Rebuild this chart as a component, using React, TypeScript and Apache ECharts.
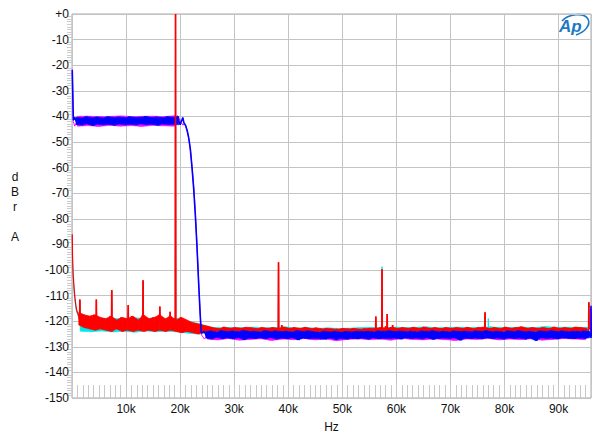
import React, { useEffect, useRef } from "react";
import * as echarts from "echarts";

// ---------- data (kHz, dB) ----------
const xTickLabels = ["10k", "20k", "30k", "40k", "50k", "60k", "70k", "80k", "90k"];

// Red trace
const redStart: number[][] = [
  [0.05, -86], [0.1, -95], [0.2, -101], [0.35, -106], [0.5, -110], [0.7, -113.5], [0.85, -115.5],
];
const redNoiseStart = 1.0; // kHz, 0.5 kHz steps
const redNoise: number[] = [
  -116.5, -121.5, -117.5, -122.5, -118, -123, -117.5, -123.5, -118.5, -123,
  -119, -123.5, -118, -124, -119.5, -123, -118.5, -124, -119, -123.5,
  -118, -124, -119.5, -123.5, -117.5, -124, -119, -123.5, -118.5, -124,
  -117.5, -123.5, -119, -124, -118, -123.5, -119.5, -124, -118.5, -124.5,
  -119.5, -124, -120.5, -124.5, -121, -125, -121.5, -124.5, -122, -124,
  -122.6, -124, -122.9, -123.8, -122.3, -124, -122.8, -124, -122.5, -123.8,
  -122.8, -124, -122.4, -123.8, -122.6, -124, -122.9, -123.8, -122.5, -124,
  -122.8, -124, -122.5, -123.8, -122.9, -124, -122.3, -124, -122.8, -123.8,
  -122.5, -124, -122.8, -124, -122.4, -123.8, -122.9, -124, -122.6, -124,
  -123, -124, -122.8, -124.2, -123, -124, -123.1, -124.2, -122.8, -124,
  -123, -124.2, -122.8, -124, -123.1, -124.2, -122.9, -124, -122.8, -124,
  -122.8, -124, -122.5, -123.8, -122.8, -124, -122.4, -124, -122.8, -124,
  -122.5, -124, -122.8, -123.8, -122.4, -124, -122.8, -124, -122.3, -123.8,
  -122.8, -124, -122.5, -124, -122.9, -123.8, -122.5, -124, -122.8, -124,
  -122.5, -123.8, -122.8, -124, -122.4, -124, -122.9, -123.8, -122.5, -124,
  -122.4, -124, -122.8, -123.8, -122.5, -124, -122.9, -124, -122.3, -123.8,
  -122.8, -124, -122.5, -123.8, -122.2, -124, -122.8, -124, -122.5, -123.8,
  -122.8, -124, -122.5, -124, -122.9, -123.8, -122.3, -124, -122.8, -124,
  -122.5, -123.8, -122.8, -124, -122.3, -123.8, -122.5, -124, -122.8, -123.8,
  -123,
];
// [freq, peak, base]
const redSpikes: number[][] = [
  [1.45, -111.5, -119], [4.5, -111.5, -120], [7.35, -107.8, -120], [10.4, -113.7, -120],
  [13.15, -104, -120], [16.25, -114.3, -120], [18.15, -116.3, -120], [19.15, 0, -121],
  [38.2, -97, -123], [38.8, -121.5, -123], [56.2, -118.2, -123], [57.35, -99.7, -123],
  [58.0, -122, -123], [58.3, -117.2, -123], [59.3, -121.5, -123], [76.4, -116.5, -123],
  [95.6, -112.6, -123],
];

// Cyan trace
const cyanStart: number[][] = [
  [0.05, -87], [0.1, -96], [0.2, -102], [0.35, -107], [0.5, -111], [0.7, -114.5], [0.85, -116.5],
];
const cyanNoiseStart = 1.0; // 1 kHz steps
const cyanNoise: number[] = [
  -117, -123.9, -118.5, -124.1, -119, -123.8, -118.8, -124.2, -119.2, -123.9,
  -118.6, -124.3, -119, -123.8, -118.7, -124.1, -119.3, -123.9, -118.9, -124.2,
  -120, -124.7, -121, -125.0, -122.3, -124.6, -122.6, -124.4, -122.4, -124.7,
  -122.5, -124.5, -122.3, -124.6, -122.6, -124.3, -122.4, -124.7, -122.2, -124.5,
  -122.7, -124.6, -122.5, -124.4, -122.8, -124.7, -122.6, -124.5, -122.9, -124.6,
  -122.7, -124.4, -122.5, -124.7, -122.4, -124.5, -122.6, -124.6, -122.3, -124.4,
  -122.5, -124.6, -122.4, -124.5, -122.2, -124.7, -122.6, -124.4, -122.4, -124.6,
  -122.3, -124.5, -122.5, -124.7, -122.4, -124.4, -122.2, -124.6, -122.5, -124.5,
  -122.4, -124.7, -122.3, -124.4, -122.5, -124.6, -122.1, -124.5, -122.4, -124.4,
  -122.3, -124.6, -122.5, -124.5, -122.4, -124.6,
];
const cyanSpikes: number[][] = [
  [1.45, -112, -120], [7.35, -108.5, -120], [13.15, -104.5, -120], [19.15, 0, -121],
  [38.2, -97.5, -123.5], [57.35, -98.7, -123.5], [76.4, -117, -123.5], [77.0, -119, -123.5],
  [95.6, -113, -123.5],
];

// Blue trace
const blueStart: number[][] = [[0.05, -22], [0.25, -41.5]];
const bluePlateauStart = 0.5; // 0.5 kHz steps
const bluePlateau: number[] = [
  -40.3, -43.2, -40.6, -43.4, -40.1, -42.9, -40.5, -43.6, -40.2, -43.1,
  -40.6, -43.3, -40.1, -43.1, -40.4, -43.5, -40.2, -43, -40.5, -43.3,
  -40.1, -43.1, -40.4, -43.4, -40.3, -42.9, -40, -43.3, -40.4, -43.1,
  -40.2, -43.5, -40.5, -43, -40.1, -43.2, -40.3, -43.1, -40, -43.3,
  -40.4,
];
const blueRolloff: number[][] = [
  [20.7, -42.5], [21.0, -43.5], [21.3, -45.5], [21.6, -48.5], [21.9, -53], [22.2, -60],
  [22.5, -68], [22.8, -78], [23.1, -90], [23.4, -104], [23.7, -117], [23.9, -124.5],
];
const blueNoiseStart = 24.5; // 0.5 kHz steps
const blueNoise: number[] = [
  -124, -126.5, -123.8, -127, -124.2, -126.3, -123.7, -126.8, -124, -126.5,
  -123.8, -126.9, -124.1, -126.4, -123.6, -127.2, -124, -126.6, -123.9, -126.8,
  -124.2, -126.5, -123.7, -126.9, -124, -126.4, -123.8, -127, -124.1, -126.6,
  -123.9, -126.8, -124.2, -126.5, -123.7, -127.3, -124, -126.6, -123.8, -126.9,
  -124.1, -126.7, -124.3, -126.9, -123.9, -127, -124.2, -126.6, -124, -127.1,
  -124.3, -126.8, -124, -127, -124.2, -126.7, -123.9, -126.9, -124.1, -126.6,
  -123.9, -127, -124.2, -126.5, -123.8, -126.9, -124, -126.7, -123.7, -126.8,
  -124, -126.6, -123.8, -127, -124.1, -126.5, -123.9, -126.8, -124.2, -126.6,
  -123.8, -126.9, -124, -126.5, -123.7, -127.1, -124.1, -126.7, -123.9, -126.6,
  -124.2, -126.8, -123.8, -126.5, -124, -127.4, -123.9, -126.6, -124.1, -126.8,
  -123.8, -126.6, -124, -126.9, -123.7, -126.5, -124.1, -126.8, -123.9, -126.6,
  -124.2, -127, -123.8, -126.5, -124, -126.8, -123.7, -126.6, -124.1, -127,
  -123.9, -126.6, -124.2, -127.6, -123.8, -126.5, -124, -126.8, -123.7, -126.6,
  -124, -126.9, -123.8, -126.5, -124.1, -126.7, -123.9, -126.8, -124, -126.6,
  -123.8, -126.7, -124, -126.5,
];
const blueSpikes: number[][] = [[96, -114, -126]];

// Magenta trace
const magentaStart: number[][] = [[0.05, -21.5], [0.25, -42]];
const magentaPlateauStart = 0.5; // 1 kHz steps
const magentaPlateau: number[] = [
  -43.8, -40, -43.6, -39.9, -43.9, -40.1, -43.5, -40, -43.8, -39.8,
  -43.6, -40.1, -43.9, -40, -43.5, -39.9, -43.7, -40.1, -43.8, -39.7,
  -43.4,
];
const magentaRolloff: number[][] = [
  [20.8, -42.8], [21.1, -44], [21.4, -46.5], [21.7, -50], [22.0, -55], [22.3, -62],
  [22.6, -70], [22.9, -81], [23.2, -94], [23.5, -108], [23.8, -120], [24.0, -125.5],
];
const magentaNoiseStart = 24.5; // 1 kHz steps
const magentaNoise: number[] = [
  -127.0, -124.6, -127.3, -124.9, -126.8, -124.7, -127.4, -124.5, -127.1, -124.8,
  -126.9, -124.6, -127.5, -124.9, -127.0, -124.7, -127.2, -124.5, -126.8, -124.8,
  -127.3, -124.6, -127.0, -124.9, -127.6, -124.7, -127.1, -124.5, -126.9, -124.8,
  -127.2, -124.6, -127.0, -124.9, -127.4, -124.7, -126.8, -124.5, -127.1, -124.8,
  -127.3, -124.6, -126.9, -124.9, -127.2, -124.7, -127.5, -124.5, -127.0, -124.8,
  -127.1, -124.6, -126.8, -124.9, -127.3, -124.7, -127.0, -124.5, -127.2, -124.8,
  -126.9, -124.6, -127.4, -124.9, -127.1, -124.7, -126.8, -124.5, -127.0, -124.8,
  -127.2, -124.6,
];
const magentaSpikes: number[][] = [[96, -115, -126.5]];

// ---------- helpers ----------
const r3 = (v: number) => Math.round(v * 1000) / 1000;
const seq = (start: number, step: number, vals: number[]) =>
  vals.map((v, i) => [r3(start + i * step), v]);
const spikePts = (spikes: number[][]) =>
  ([] as number[][]).concat(
    ...spikes.map(([f, peak, base]) => [[r3(f - 0.04), base], [f, peak], [r3(f + 0.04), base]])
  );
// spikes only, separated by gaps
const spikeOnly = (spikes: number[][]) =>
  ([] as any[][]).concat(
    ...spikes.map(([f, peak, base]) => [[r3(f - 0.04), base], [f, peak], [r3(f + 0.04), base], [r3(f + 0.05), "-"]])
  );
const merge = (...parts: number[][][]) => {
  const all = ([] as number[][]).concat(...parts);
  return all
    .map((p, i) => ({ p, i }))
    .sort((a, b) => a.p[0] - b.p[0] || a.i - b.i)
    .map((o) => o.p);
};
// band [f, lo, hi] from each consecutive pair of noise readings
const bandOf = (start: number, step: number, vals: number[]) => {
  const pts: number[][] = [];
  for (let i = 0; i + 1 < vals.length; i += 2) {
    const f = r3(start + (i + 0.5) * step);
    pts.push([f, Math.min(vals[i], vals[i + 1]), Math.max(vals[i], vals[i + 1])]);
  }
  return pts;
};

const LOGO_D = "M 5 7 C 11 0 27 -2 31 5 C 34 11 28 18 19 21";
let logoRegistered = false;

const FONT = "'Liberation Sans', Arial, sans-serif";

export default function App() {
  const ref = useRef<HTMLDivElement>(null);
  useEffect(() => {
    document.body.style.margin = "0";
    if (!logoRegistered) {
      echarts.graphic.registerShape("logo", echarts.graphic.extendPath(LOGO_D, {}));
      logoRegistered = true;
    }
    const chart = echarts.init(ref.current!, null, { renderer: "svg" });

    const red = merge(redStart, seq(redNoiseStart, 0.5, redNoise), spikePts(redSpikes));
    const cyan = merge(cyanStart, seq(cyanNoiseStart, 1, cyanNoise), spikePts(cyanSpikes));
    const blue = merge(blueStart, seq(bluePlateauStart, 0.5, bluePlateau), blueRolloff, seq(blueNoiseStart, 0.5, blueNoise), spikePts(blueSpikes));
    const magenta = merge(magentaStart, seq(magentaPlateauStart, 1, magentaPlateau), magentaRolloff, seq(magentaNoiseStart, 1, magentaNoise), spikePts(magentaSpikes));

    const lineSeries = (id: string, data: any[][], color: string, z: number, width = 1) => ({
      id,
      name: id,
      type: "line",
      data,
      showSymbol: false,
      symbol: "none",
      silent: true,
      connectNulls: false,
      lineStyle: { color, width },
      z,
    });

    const bandSeries = (id: string, pts: number[][], color: string, z: number) => ({
      id,
      name: id,
      type: "custom",
      data: pts,
      silent: true,
      z,
      encode: { x: 0, y: [1, 2] },
      renderItem: (params: any, api: any) => {
        const i = params.dataIndex;
        if (i >= pts.length - 1) return null;
        const a = pts[i];
        const b = pts[i + 1];
        const p1 = api.coord([a[0], a[2]]);
        const p2 = api.coord([b[0], b[2]]);
        const p3 = api.coord([b[0], b[1]]);
        const p4 = api.coord([a[0], a[1]]);
        return {
          type: "polygon",
          shape: { points: [p1, p2, p3, p4] },
          style: { fill: color, stroke: color, lineWidth: 0.6 },
        };
      },
    });

    chart.setOption({
      animation: false,
      backgroundColor: "#ffffff",
      grid: {
        left: 72, right: 9, top: 14, bottom: 42,
        show: true, borderColor: "#a8a8a8", borderWidth: 1,
      },
      xAxis: [
        {
          type: "value", min: 0, max: 96, interval: 10,
          name: "Hz", nameLocation: "middle", nameGap: 23,
          nameTextStyle: { fontSize: 12, color: "#111", fontFamily: FONT },
          axisLine: { show: false }, axisTick: { show: false },
          axisLabel: {
            fontSize: 12, color: "#111", fontFamily: FONT, margin: 5,
            formatter: (v: number) => {
              const idx = Math.round(v / 10) - 1;
              return v % 10 === 0 && idx >= 0 && idx < xTickLabels.length ? xTickLabels[idx] : "";
            },
          },
          splitLine: { show: true, lineStyle: { color: "#c4c4c4", width: 1 } },
        },
        {
          type: "value", min: 0, max: 96, interval: 1, position: "bottom",
          axisLine: { show: false },
          axisTick: { show: true, inside: true, length: 13, lineStyle: { color: "#c8c8c8", width: 1 } },
          axisLabel: { show: false },
          splitLine: { show: false },
        },
      ],
      yAxis: [
        {
          type: "value", min: -150, max: 0, interval: 10,
          axisLine: { show: false }, axisTick: { show: false },
          axisLabel: {
            fontSize: 12, color: "#111", fontFamily: FONT, margin: 3,
            formatter: (v: number) => (v === 0 ? "+0" : String(v)),
          },
          splitLine: { show: true, lineStyle: { color: "#c4c4c4", width: 1 } },
          minorTick: { show: true, splitNumber: 10, length: 5, lineStyle: { color: "#cccccc", width: 1 } },
        },
      ],
      series: [
        bandSeries("cyanBand", bandOf(cyanNoiseStart, 1, cyanNoise), "#00e8e8", 3),
        lineSeries("cyanLine", cyan, "#00e8e8", 4),
        bandSeries("magentaPlateauBand", bandOf(magentaPlateauStart, 1, magentaPlateau), "#ff00ff", 5),
        bandSeries("magentaNoiseBand", bandOf(magentaNoiseStart, 1, magentaNoise), "#ff00ff", 5),
        lineSeries("magentaLine", magenta, "#ff00ff", 6),
        bandSeries("redBand", bandOf(redNoiseStart, 0.5, redNoise), "#ff0000", 7),
        lineSeries("redLine", red, "#ff0000", 8, 1.2),
        bandSeries("bluePlateauBand", bandOf(bluePlateauStart, 0.5, bluePlateau), "#0000ff", 9),
        bandSeries("blueNoiseBand", bandOf(blueNoiseStart, 0.5, blueNoise), "#0000ff", 9),
        lineSeries("blueLine", blue, "#0000ff", 10, 1.6),
        lineSeries("redSpikeLine", spikeOnly(redSpikes), "#ff0000", 11, 1.6),
      ],
      graphic: [
        {
          type: "text", x: 15, y: 207,
          style: { text: "d\nB\nr\n\nA", fontSize: 12, lineHeight: 15, align: "center", verticalAlign: "middle", fill: "#111", fontFamily: FONT },
        },
        {
          type: "text", x: 559, y: 18,
          style: { text: "Ap", fontSize: 17, fontStyle: "italic", fontWeight: "bold", fill: "#1f78c1", fontFamily: FONT },
        },
        {
          type: "logo", x: 557, y: 14,
          style: { stroke: "#1f78c1", fill: null, lineWidth: 1.6 },
        },
      ],
    });
    return () => chart.dispose();
  }, []);
  return <div ref={ref} style={{ position: "absolute", left: 0, top: 0, width: 600, height: 440 }} />;
}
